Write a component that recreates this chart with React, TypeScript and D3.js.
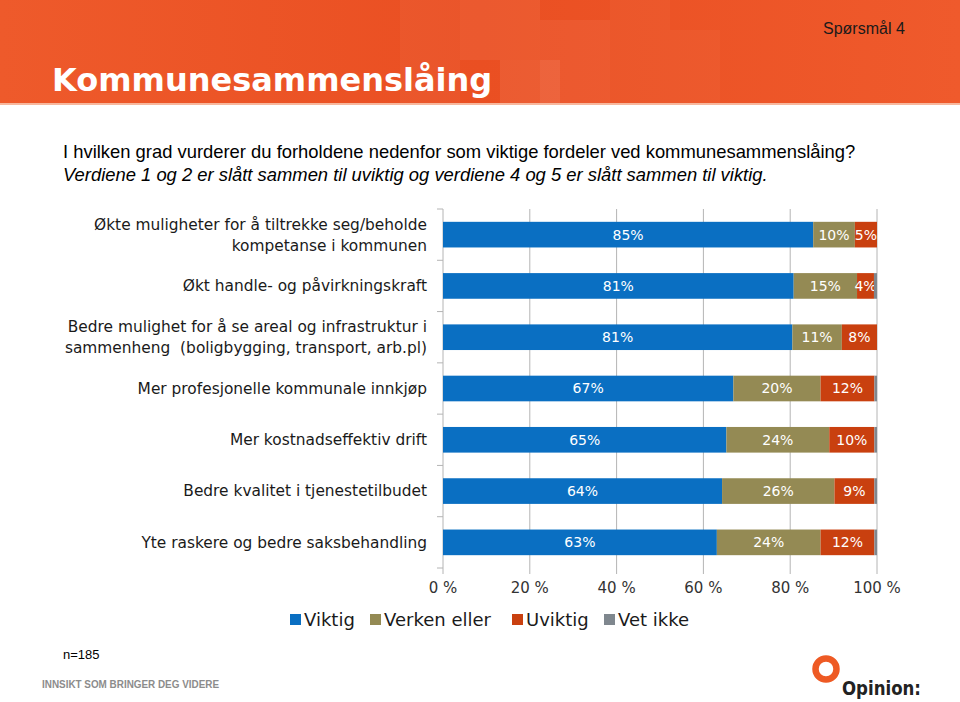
import * as d3 from "d3";

const categories = [
  "Økte muligheter for å tiltrekke seg/beholde|kompetanse i kommunen",
  "Økt handle- og påvirkningskraft",
  "Bedre mulighet for å se areal og infrastruktur i|sammenheng  (boligbygging, transport, arb.pl)",
  "Mer profesjonelle kommunale innkjøp",
  "Mer kostnadseffektiv drift",
  "Bedre kvalitet i tjenestetilbudet",
  "Yte raskere og bedre saksbehandling",
];

const seriesNames = ["Viktig", "Verken eller", "Uviktig", "Vet ikke"];
const seriesColors = ["#0A6FC2", "#948A54", "#C9400F", "#7F878E"];

const viktig = [85.3, 80.8, 80.5, 66.9, 65.3, 64.3, 63.1];
const verken = [9.6, 14.6, 11.4, 20.1, 23.7, 25.9, 23.9];
const uviktig = [5.1, 3.9, 8.1, 12.4, 10.4, 9.2, 12.4];
const vetIkke = [0, 0.7, 0, 0.6, 0.6, 0.6, 0.6];

const xTicks = [0, 20, 40, 60, 80, 100];

const W = 960;
const H = 702;
const labelFont = "'DejaVu Sans', sans-serif";
const arial = "'Liberation Sans', Arial, sans-serif";

export default function App() {
  const x = d3.scaleLinear().domain([0, 100]).range([443, 877]);
  const y = d3
    .scaleBand<string>()
    .domain(categories)
    .range([209, 568])
    .paddingInner(0.5)
    .paddingOuter(0.25);

  const rows = categories.map((c, i) => ({
    cat: c,
    Viktig: viktig[i],
    "Verken eller": verken[i],
    Uviktig: uviktig[i],
    "Vet ikke": vetIkke[i],
  }));
  const stacked = d3.stack<any>().keys(seriesNames)(rows);

  // faint blocks for the textured header band
  const blocks = [
    [400, 0, 60, 104, 0.04],
    [460, 0, 80, 60, 0.06],
    [540, 20, 70, 84, 0.05],
    [610, 0, 60, 104, 0.03],
    [500, 60, 60, 44, 0.07],
    [670, 30, 50, 74, 0.03],
  ];

  const legendX = [290, 370, 512, 604];

  return (
    <svg
      width={W}
      height={H}
      style={{ position: "absolute", left: 0, top: 0, background: "#fff" }}
    >
      <defs>
        <linearGradient id="hdr" x1="0" x2="1" y1="0" y2="0">
          <stop offset="0" stopColor="#EE5A2B" />
          <stop offset="0.5" stopColor="#EA4F22" />
          <stop offset="1" stopColor="#EF5A2C" />
        </linearGradient>
      </defs>
      <rect x={0} y={0} width={W} height={104} fill="url(#hdr)" />
      {blocks.map((b, i) => (
        <rect
          key={i}
          x={b[0]}
          y={b[1]}
          width={b[2]}
          height={b[3]}
          fill="#fff"
          opacity={b[4]}
        />
      ))}
      <rect x={0} y={103} width={W} height={2} fill="#F7B89E" />
      <text
        x={52}
        y={91}
        fill="#fff"
        fontFamily={labelFont}
        fontWeight="bold"
        fontSize={32}
      >
        Kommunesammenslåing
      </text>
      <text x={823} y={34} fill="#1a1a1a" fontFamily={arial} fontSize={16}>
        Spørsmål 4
      </text>

      <text x={63} y={158} fill="#000" fontFamily={arial} fontSize={18.4}>
        I hvilken grad vurderer du forholdene nedenfor som viktige fordeler ved kommunesammenslåing?
      </text>
      <text
        x={63}
        y={181}
        fill="#000"
        fontStyle="italic"
        fontFamily={arial}
        fontSize={18.4}
      >
        Verdiene 1 og 2 er slått sammen til uviktig og verdiene 4 og 5 er slått sammen til viktig.
      </text>

      {/* gridlines */}
      {xTicks.map((t) => (
        <line
          key={t}
          x1={x(t)}
          x2={x(t)}
          y1={209}
          y2={574}
          stroke="#B4B4B4"
          strokeWidth={1}
        />
      ))}
      {d3.range(categories.length + 1).map((i) => {
        const py = 209 + i * y.step();
        return (
          <line key={i} x1={437} x2={443} y1={py} y2={py} stroke="#B4B4B4" />
        );
      })}

      {/* bars */}
      {stacked.map((s, si) => (
        <g key={s.key}>
          {s.map((d, i) => (
            <rect
              key={i}
              x={x(d[0])}
              y={y(categories[i])}
              width={Math.max(0, x(d[1]) - x(d[0]))}
              height={y.bandwidth()}
              fill={seriesColors[si]}
            />
          ))}
          {si < 3 &&
            s.map((d, i) =>
              d[1] - d[0] >= 2 ? (
                <text
                  key={"t" + i}
                  x={(x(d[0]) + x(d[1])) / 2}
                  y={(y(categories[i]) as number) + y.bandwidth() / 2}
                  dy="0.35em"
                  textAnchor="middle"
                  fill="#fff"
                  fontFamily={labelFont}
                  fontSize={14}
                >
                  {Math.round(d[1] - d[0])}%
                </text>
              ) : null
            )}
        </g>
      ))}

      {/* category labels */}
      {categories.map((c) => {
        const lines = c.split("|");
        const cy = (y(c) as number) + y.bandwidth() / 2;
        return (
          <text
            key={c}
            x={427}
            textAnchor="end"
            fill="#1a1a1a"
            fontFamily={labelFont}
            fontSize={15.4}
          >
            {lines.map((l, j) => (
              <tspan
                key={j}
                x={427}
                y={cy + (j - (lines.length - 1) / 2) * 21}
                dy="0.35em"
                style={{ whiteSpace: "pre" }}
              >
                {l}
              </tspan>
            ))}
          </text>
        );
      })}

      {/* x tick labels */}
      {xTicks.map((t) => (
        <text
          key={t}
          x={x(t)}
          y={593}
          textAnchor="middle"
          fill="#333"
          fontFamily={labelFont}
          fontSize={15}
        >
          {t} %
        </text>
      ))}

      {/* legend */}
      {seriesNames.map((n, i) => (
        <g key={n}>
          <rect
            x={legendX[i]}
            y={614}
            width={11}
            height={11}
            fill={seriesColors[i]}
          />
          <text
            x={legendX[i] + 14}
            y={626}
            fill="#1a1a1a"
            fontFamily={labelFont}
            fontSize={18}
          >
            {n}
          </text>
        </g>
      ))}

      {/* footer */}
      <text x={63} y={659} fill="#000" fontFamily={arial} fontSize={13}>
        n=185
      </text>
      <text
        x={42}
        y={688}
        fill="#8C8C8C"
        fontFamily={arial}
        fontWeight="bold"
        fontSize={10.5}
        textLength={177}
        lengthAdjust="spacingAndGlyphs"
      >
        INNSIKT SOM BRINGER DEG VIDERE
      </text>
      <circle cx={826} cy={669} r={10.5} fill="none" stroke="#EE5A24" strokeWidth={6.5} />
      <text
        x={842}
        y={695}
        fill="#222"
        fontFamily={labelFont}
        fontWeight="bold"
        fontSize={19}
        textLength={79}
        lengthAdjust="spacingAndGlyphs"
      >
        Opinion:
      </text>
    </svg>
  );
}
